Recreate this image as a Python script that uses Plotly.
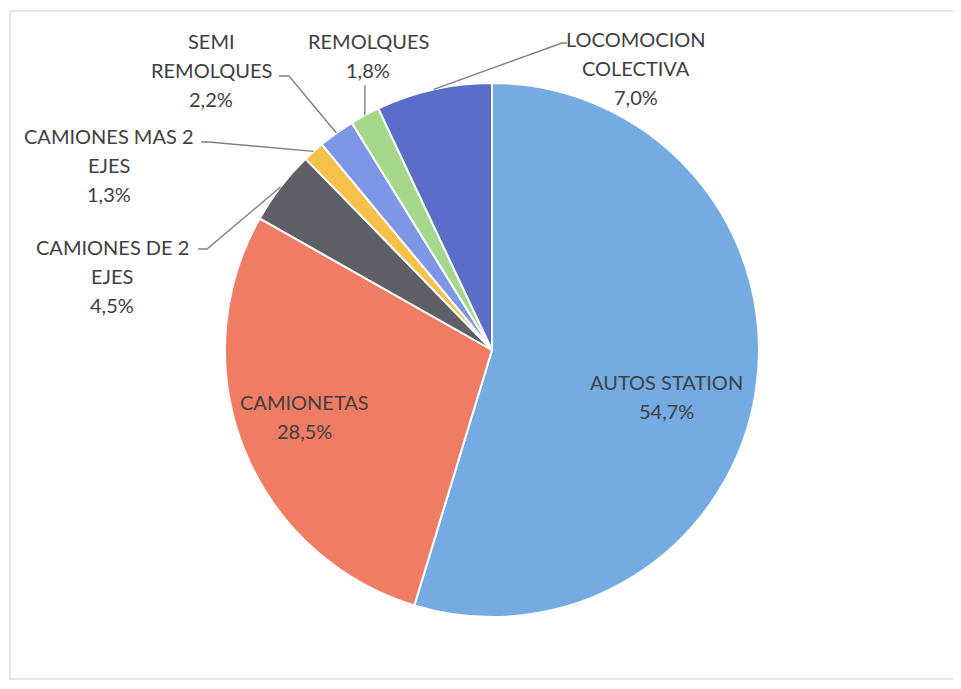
import math
import plotly.graph_objects as go

categories = ["AUTOS STATION", "CAMIONETAS", "CAMIONES DE 2 EJES", "CAMIONES MAS 2 EJES",
              "SEMI REMOLQUES", "REMOLQUES", "LOCOMOCION COLECTIVA"]
values = [54.7, 28.5, 4.5, 1.3, 2.2, 1.8, 7.0]
label_lines = [["AUTOS STATION"], ["CAMIONETAS"], ["CAMIONES DE 2", "EJES"], ["CAMIONES MAS 2", "EJES"],
               ["SEMI", "REMOLQUES"], ["REMOLQUES"], ["LOCOMOCION", "COLECTIVA"]]
colors = ["#74abe3", "#f07c64", "#5f6067", "#f6c14b", "#7e96e6", "#a6d88b", "#5c6cc9"]

OFF = 8  # page body margin
W, H = 961 - 2 * OFF, 689 - 2 * OFF
CX, CY, R = 492, 350, 267   # in window pixels
FONT = "Lato"
FS = 20
TXT = "#404040"
LINE_H = 29

def px(x, y):
    # window pixel -> paper coords
    return (x - OFF) / W, 1 - (y - OFF) / H

def fmt(v):
    return f"{v:.1f}".replace(".", ",") + "%"

dx0, dy1 = px(CX - R, CY - R)
dx1, dy0 = px(CX + R, CY + R)
fig = go.Figure(go.Pie(
    labels=categories, values=values, sort=False, direction="clockwise", rotation=0,
    marker=dict(colors=colors, line=dict(color="white", width=2)),
    textinfo="none", hoverinfo="label+percent", showlegend=False,
    domain=dict(x=[dx0, dx1], y=[dy0, dy1]),
))

# label layout (window px): (text center x, first line y, leader elbow points or None)
label_layout = {
    0: (666, 382, None),
    1: (304, 402, None),
    2: (112, 247, [(207, 249), (198, 249)]),
    3: (109, 136, [(209, 142), (201, 142)]),
    4: (211, 41, [(289, 76), (279, 76)]),
    5: (368, 41, [(365, 85)]),
    6: (636, 39, [(562, 43), (567, 43)]),
}

total = sum(values)
cum = 0.0
annotations = []
shapes = []
for i, v in enumerate(values):
    mid = (cum + v / 2) / total * 2 * math.pi
    cum += v
    tx, ty, elbows = label_layout[i]
    lines = label_lines[i] + [fmt(v)]
    for k, t in enumerate(lines):
        x, y = px(tx, ty + k * LINE_H)
        annotations.append(dict(x=x, y=y, xref="paper", yref="paper", text=t, showarrow=False,
                                xanchor="center", yanchor="middle",
                                font=dict(family=FONT, size=FS, color=TXT)))
    if elbows:
        sx = CX + R * math.sin(mid)
        sy = CY - R * math.cos(mid)
        pts = [(sx, sy)] + elbows
        path = " ".join(("M" if j == 0 else "L") + "{:.5f},{:.5f}".format(*px(*p)) for j, p in enumerate(pts))
        shapes.append(dict(type="path", path=path, xref="paper", yref="paper",
                           line=dict(color="#808080", width=1.4)))

# faint frame: top, left and bottom edges (right edge lies outside the picture)
fx0, fy_top = px(10, 11)
fx1, fy_bot = px(953, 679)
frame = "M{1:.5f},{2:.5f} L{0:.5f},{2:.5f} L{0:.5f},{3:.5f} L{1:.5f},{3:.5f}".format(fx0, fx1, fy_top, fy_bot)
shapes.append(dict(type="path", path=frame, xref="paper", yref="paper",
                   line=dict(color="#dedede", width=1.5), layer="below"))

fig.update_layout(width=W, height=H, margin=dict(l=0, r=0, t=0, b=0),
                  paper_bgcolor="white", plot_bgcolor="white",
                  annotations=annotations, shapes=shapes)
fig.write_html("out.html")
